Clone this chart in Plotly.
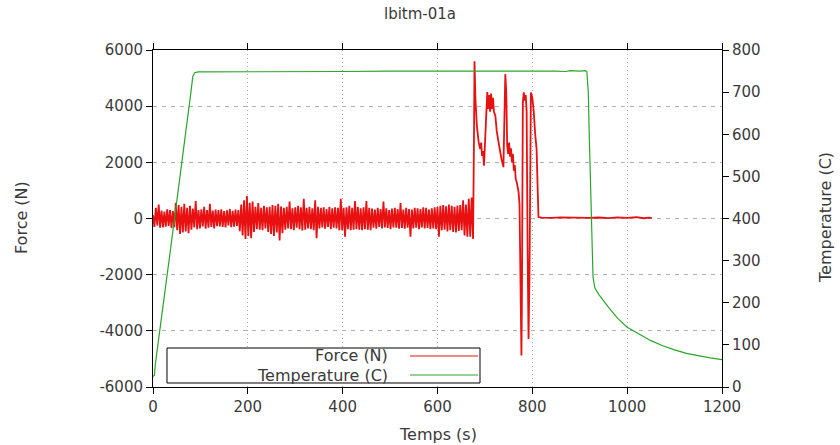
import plotly.graph_objects as go

# ---- data ----
# Force noise before the event, one value every 3 s from t=0
force_noise = [
    120, -300, 380, -250, 500, -330,
    280, -320, 250, -290, 330, -260, 300, -340, 260, -310,
    560, -420, 480, -550, 420, -500, 520, -460, 380, -520, 450, -400, 350,
    -320, 620, -380, 300, -350, 330, -280, 420, -360, 300, -330, 520, -300, 280, -350, 320, -270,
    300, -280, 330, -300, 260, -320, 290, -250, 340, -310, 270, -290, 320, -260, 300,
    -450, 500, -600, 650, -730, 800, -620, 560, -700, 600, -480,
    420, -380, 550, -400, 380, -420, 450, -350, 400,
    -480, 420, -550, 480, -620, 450, -500, 520, -780, 430, -520,
    380, -400, 420, -350, 600, -380, 360, -420, 400, -330, 450, -380, 400, -430, 700, -400, 380, -350, 420, -380, 360, -420, 650,
    -700, 420, -350, 380, -320, 400, -360, 340, -300, 420, -380, 360, -330, 400, -350, 380, -420, 700, -420,
    380, -650, 400, -380, 450, -420, 380, -400, 620, -380, 420, -400, 360, -420, 400, -380, 620, -400, 380, -420,
    350, -330, 320, -360, 380, -300, 340, -350, 600, -320, 360, -340, 300, -380, 350, -320, 380, -330, 340, -360, 550, -340, 320, -360, 380, -330,
    340, -650, 320, -350, 380, -330, 360, -380, 340, -320, 400, -350, 380, -340, 320, -380, 360, -350, 400, -380, 420,
    -650, 450, -420, 480, -400, 430, -460, 500, -420, 450, -480, 420, -500, 460, -440, 480, -420, 650, -600, 500, -650,
    700, -650, 750, -730,
]
noise_step = 3

# Force after the event (time s, force N)
event_t = [677, 678, 680, 683, 687, 690, 692, 694, 696, 698, 701, 705, 707, 709, 711, 713, 715, 717, 719,
           722, 725, 728, 731, 735, 737, 739, 743, 745, 747, 749, 751, 753, 755, 757, 759, 761, 763, 765,
           767, 769, 771, 773, 775, 777, 778, 780, 782, 784, 786, 788, 790, 792, 794, 797, 800, 803, 806,
           809, 811, 813, 820, 840, 860, 880, 900, 920, 940, 960, 980, 1000, 1020, 1035, 1045, 1052]
event_f = [3000, 5600, 4250, 3300, 2700, 2470, 2700, 2230, 2400, 1880, 3000, 4500, 3900, 4400, 3800, 4450, 3900, 4300, 3800,
           3660, 3100, 2720, 2500, 2120, 2000, 1830, 5140, 4500, 2590, 2300, 2700, 2200, 2500, 2000, 2300, 1700, 1900, 1400,
           1300, 1100, 940, 500, -2000, -4880, -3000, 4140, 4490, 4200, 4400, 3800, -1000, -4290, -2000, 4490, 4300, 3800, 3000,
           2470, 1200, 50, 30, 20, 40, 25, 30, 20, 35, 10, 40, 20, 50, 10, 30, 20]

# Temperature (time s, degrees C)
temp_t = [0, 3, 5, 10, 15, 20, 25, 30, 35, 40, 45, 50, 55, 60, 65, 70, 75, 80, 84, 88, 95, 150, 300, 400,
          500, 600, 700, 760, 780, 850, 870, 880, 900, 912, 915, 918, 920, 922, 924, 926, 928, 932, 940,
          960, 980, 1000, 1025, 1050, 1075, 1100, 1125, 1150, 1175, 1200]
temp_c = [25, 28, 55, 100, 140, 185, 225, 268, 310, 352, 395, 438, 480, 520, 565, 610, 655, 700, 738, 746, 748, 748, 749, 749,
          750, 750, 750, 751, 750, 750, 749, 751, 750, 751, 748, 700, 600, 500, 400, 320, 260, 235, 220,
          190, 163, 142, 125, 110, 98, 88, 80, 74, 69, 65]

# tick labels
force_ticks = [-6000, -4000, -2000, 0, 2000, 4000, 6000]
force_ticktext = ["-6000", "-4000", "-2000", "0", "2000", "4000", "6000"]

title = "lbitm-01a"
x_title = "Temps (s)"
y_title = "Force (N)"
y2_title = "Temperature (C)"
force_name = "Force (N)"
temp_name = "Temperature (C)"

force_t = [noise_step * i for i in range(len(force_noise))] + event_t
force_f = force_noise + event_f

FORCE_COLOR = "#e81010"
TEMP_COLOR = "#2aa52a"
FONT = "DejaVu Sans"
TXT = "#3a3a3a"

fig = go.Figure()
fig.add_trace(go.Scatter(x=force_t, y=force_f, mode="lines", name=force_name,
                         line=dict(color=FORCE_COLOR, width=1.8), yaxis="y"))
fig.add_trace(go.Scatter(x=temp_t, y=temp_c, mode="lines", name=temp_name,
                         line=dict(color=TEMP_COLOR, width=1.2), yaxis="y2"))

axis_common = dict(showline=True, linecolor="black", linewidth=1, ticks="outside",
                   ticklen=6, tickcolor="black", zeroline=False, automargin=False,
                   tickfont=dict(family=FONT, size=15, color=TXT))

fig.update_layout(
    width=840, height=445,
    margin=dict(l=153, r=118, t=50, b=58),
    paper_bgcolor="white", plot_bgcolor="white",
    showlegend=False,
    title=dict(text=title, x=0.5, xanchor="center", y=0.968, yanchor="middle",
               font=dict(family=FONT, size=15, color=TXT)),
    xaxis=dict(range=[0, 1200], dtick=200, mirror="ticks", showgrid=True,
               gridcolor="#b0b0b0", griddash="1px,3px", gridwidth=1,
               **axis_common),
    yaxis=dict(range=[-6000, 6000], tickmode="array", tickvals=force_ticks, ticktext=force_ticktext,
               showgrid=True, gridcolor="#b0b0b0", griddash="4px,5px", gridwidth=1,
               **axis_common),
    yaxis2=dict(range=[0, 800], dtick=100, overlaying="y", side="right", showgrid=False,
                **axis_common),
)

# axis titles placed as in the reference
title_font = dict(family=FONT, size=16, color=TXT)
fig.add_annotation(xref="paper", yref="paper", x=-0.2302, y=0.5015, text=y_title, showarrow=False,
                   textangle=-90, xanchor="center", yanchor="middle", font=title_font)
fig.add_annotation(xref="paper", yref="paper", x=1.1828, y=0.5015, text=y2_title, showarrow=False,
                   textangle=-90, xanchor="center", yanchor="middle", font=title_font)
fig.add_annotation(xref="paper", yref="paper", x=0.5009, y=-0.1424, text=x_title, showarrow=False,
                   xanchor="center", yanchor="middle", font=title_font)

# gnuplot-style key box, drawn by hand (text left of the line sample)
fig.add_shape(type="rect", xref="paper", yref="paper", x0=0.0246, x1=0.5747, y0=0.0119, y1=0.1157,
              line=dict(color="black", width=1), fillcolor="white", layer="above")
for label, color, yy in [(force_name, FORCE_COLOR, 0.092), (temp_name, TEMP_COLOR, 0.0356)]:
    fig.add_annotation(xref="paper", yref="paper", x=0.4165, y=yy, text=label, showarrow=False,
                       xanchor="right", yanchor="middle",
                       font=dict(family=FONT, size=16, color=TXT))
    fig.add_shape(type="line", xref="paper", yref="paper", x0=0.4517, x1=0.5712, y0=yy, y1=yy,
                  line=dict(color=color, width=1), layer="above")

fig.write_html("out.html")
